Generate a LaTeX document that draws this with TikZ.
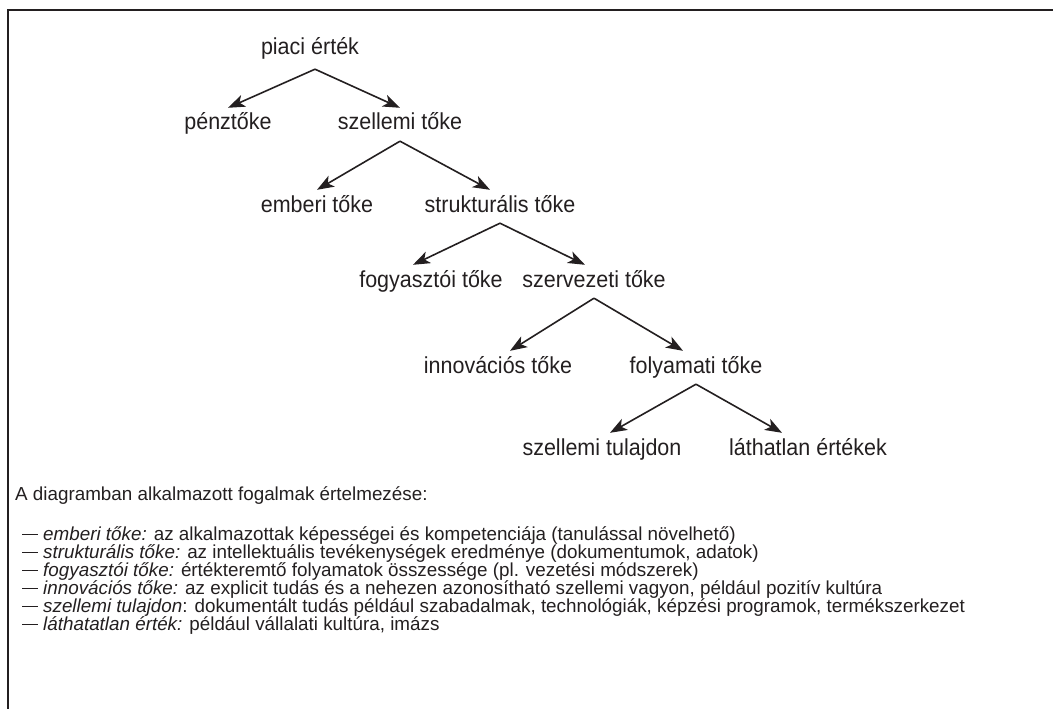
\documentclass[tikz,border=0pt]{standalone}
\usepackage{fontspec}
\setmainfont{Liberation Sans}
\newfontfamily\fafont[FakeStretch=0.93]{Liberation Sans}
\usetikzlibrary{arrows.meta}
\definecolor{ink}{HTML}{231F20}

\newcommand{\vonal}{\raisebox{5.5bp}{\rule{16bp}{1bp}}\hspace{5bp}}

\tikzset{
  fogalom/.style={anchor=base, inner xsep=0pt, inner ysep=6bp,
    text height=16bp, text depth=5bp,
    font=\fafont\fontsize{23.2}{26}\selectfont, text=ink},
  nyil/.style={draw=ink, line width=1.6bp,
    -{Stealth[length=17bp,width=12.5bp,inset=4.5bp]}},
  magyarazat/.style={anchor=base west, inner sep=0pt,
    font=\fontsize{18.9}{18}\selectfont, text=ink}
}

\begin{document}
\begin{tikzpicture}[x=1bp, y=-1bp]
\useasboundingbox (0,0) rectangle (1053,709);
% keret
\draw[ink, line width=2.5bp] (1053,10) -- (8,10) -- (8,709);

% fa
\node[fogalom] (piaci) at (310,55) {piaci érték};
\node[fogalom] (penz)  at (228,130) {pénztőke};
\node[fogalom] (szell) at (400,130) {szellemi tőke};
\node[fogalom] (ember) at (317,212) {emberi tőke};
\node[fogalom] (struk) at (500,212) {strukturális tőke};
\node[fogalom] (fogy)  at (431,287) {fogyasztói tőke};
\node[fogalom] (szerv) at (594,287) {szervezeti tőke};
\node[fogalom] (innov) at (498,373) {innovációs tőke};
\node[fogalom] (folyam) at (696,373) {folyamati tőke};
\node[fogalom] (tulaj) at (602,455) {szellemi tulajdon};
\node[fogalom] (lathat) at (808,455) {láthatlan értékek};

\draw[nyil] ([xshift=5bp,yshift=-3bp]piaci.south) -- (penz.north);
\draw[nyil] ([xshift=5bp,yshift=-3bp]piaci.south) -- (szell.north);
\draw[nyil] (szell.south) -- (ember.north);
\draw[nyil] (szell.south) -- ([xshift=-10bp]struk.north);
\draw[nyil] (struk.south) -- ([xshift=-18bp]fogy.north);
\draw[nyil] (struk.south) -- ([xshift=-9bp]szerv.north);
\draw[nyil] (szerv.south) -- ([xshift=12bp]innov.north);
\draw[nyil] (szerv.south) -- ([xshift=-13bp]folyam.north);
\draw[nyil] (folyam.south) -- ([xshift=8bp]tulaj.north);
\draw[nyil] (folyam.south) -- ([xshift=-26bp]lathat.north);

% magyarazat
\node[magyarazat] (cim) at (15,500) {A diagramban alkalmazott fogalmak értelmezése:};
\node[magyarazat] (d1) at (22,540) {\vonal\textit{emberi tőke:} az alkalmazottak képességei és kompetenciája (tanulással növelhető)};
\node[magyarazat] (d2) at (22,558) {\vonal\textit{strukturális tőke:} az intellektuális tevékenységek eredménye (dokumentumok, adatok)};
\node[magyarazat] (d3) at (22,576) {\vonal\textit{fogyasztói tőke:} értékteremtő folyamatok összessége (pl. vezetési módszerek)};
\node[magyarazat] (d4) at (22,594) {\vonal\textit{innovációs tőke:} az explicit tudás és a nehezen azonosítható szellemi vagyon, például pozitív kultúra};
\node[magyarazat] (d5) at (22,612) {\vonal\textit{szellemi tulajdon}: dokumentált tudás például szabadalmak, technológiák, képzési programok, termékszerkezet};
\node[magyarazat] (d6) at (22,630) {\vonal\textit{láthatatlan érték:} például vállalati kultúra, imázs};
\end{tikzpicture}
\end{document}
